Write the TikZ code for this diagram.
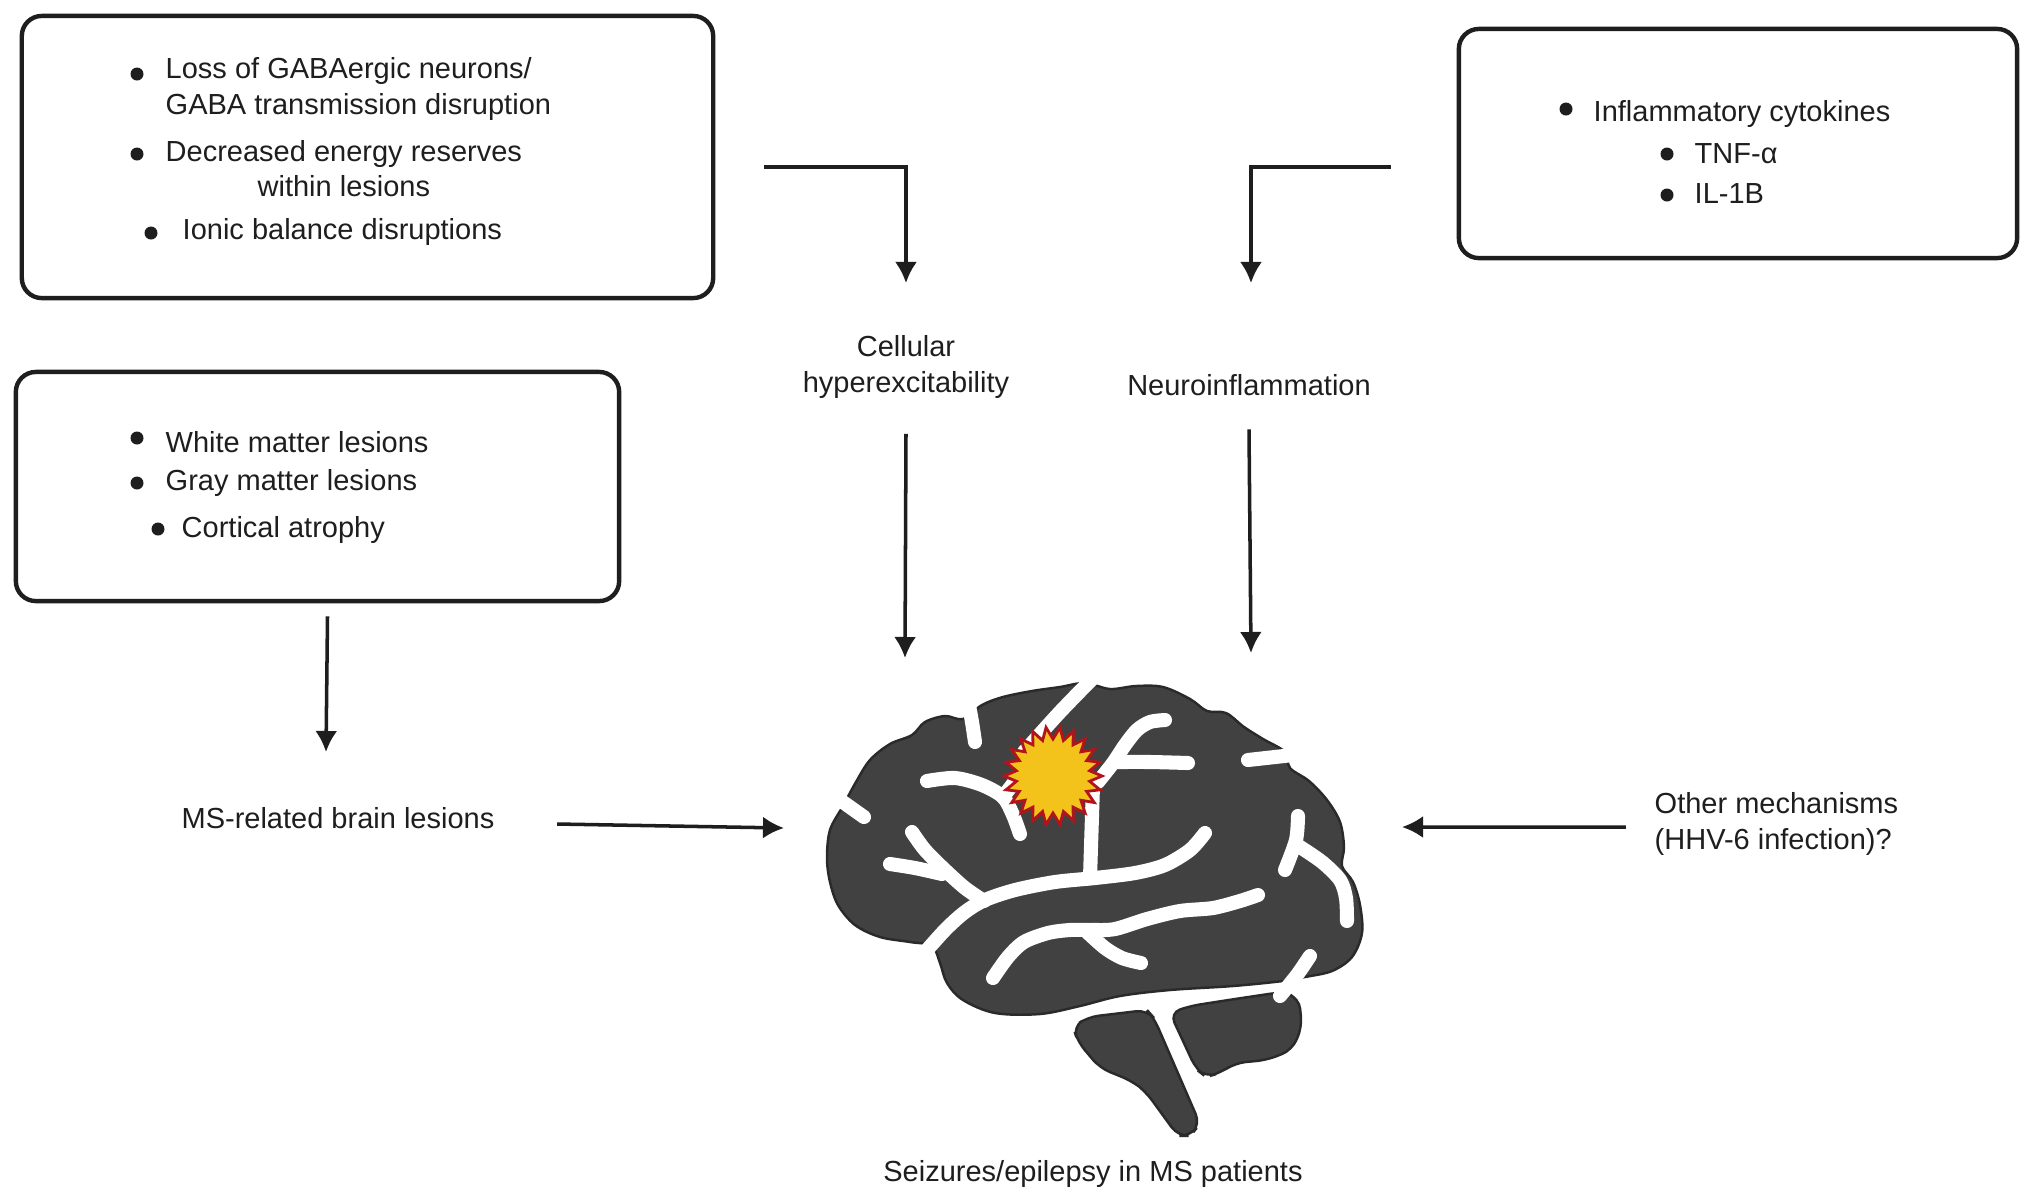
\documentclass[tikz,border=0pt]{standalone}
\usepackage{fontspec}
\setmainfont{Liberation Sans}
\usetikzlibrary{arrows.meta,positioning}
\definecolor{ink}{HTML}{1E1E1E}
\definecolor{brainfill}{HTML}{414141}
\definecolor{brainedge}{HTML}{2A2A2A}
\definecolor{flash}{HTML}{F3C21B}
\definecolor{flashedge}{HTML}{B3141C}
\tikzset{
  box/.style={draw=ink, line width=1.25pt, rounded corners=0.2cm, inner sep=0},
  txt/.style={text=ink, inner sep=0, font=\fontsize{8.25}{10}\selectfont},
  arr/.style={draw=ink, line width=1pt, -{Latex[length=0.21cm,width=0.22cm]}},
  lobe/.style={fill=brainfill, draw=brainedge, line width=0.7pt},
  sulcus/.style={draw=white, line width=4pt, line cap=round, line join=round},
}
\begin{document}
\begin{tikzpicture}[x=0.01cm,y=-0.01cm]
\useasboundingbox (0,0) rectangle (2032,1202);
\fill[white] (0,0) rectangle (2032,1202);

% boxes
\node[box, minimum width=6.91cm, minimum height=2.82cm] (lossbox) at (367.5,157) {};
\node[box, minimum width=5.58cm, minimum height=2.29cm] (cytobox) at (1738,143.5) {};
\node[box, minimum width=6.03cm, minimum height=2.29cm] (lesionbox) at (317.5,486.5) {};

% box texts
\fill[ink] (137,74) circle (6.5);
\node[txt, anchor=west, align=left] (loss) at (165,89) {Loss of GABAergic neurons/\\GABA transmission disruption};
\fill[ink] (137,154) circle (6.5);
\node[txt, anchor=west, align=center] (energy) at (165,169) {Decreased energy reserves\\within lesions};
\fill[ink] (151,233) circle (6.5);
\node[txt, anchor=west] (ionic) at (182,232) {Ionic balance disruptions};

\fill[ink] (1566,109) circle (6.5);
\node[txt, anchor=west] (cyto) at (1593,114) {Inflammatory cytokines};
\fill[ink] (1667,154) circle (6.5);
\node[txt, anchor=west] (tnf) at (1694,154) {TNF-α};
\fill[ink] (1667,195) circle (6.5);
\node[txt, anchor=west] (il) at (1694,194) {IL-1B};

\fill[ink] (137,438) circle (6.5);
\node[txt, anchor=west] (whitem) at (165,442) {White matter lesions};
\fill[ink] (137,483) circle (6.5);
\node[txt, anchor=west] (graym) at (165,483) {Gray matter lesions};
\fill[ink] (158,529) circle (6.5);
\node[txt, anchor=west] (cortical) at (181,530) {Cortical atrophy};

% labels
\node[txt, align=center] (cell) at (906,367) {Cellular\\hyperexcitability};
\node[txt] (neuro) at (1249,385) {Neuroinflammation};
\node[txt] (mslesion) at (338,818) {MS-related brain lesions};
\node[txt, anchor=west, align=left] (other) at (1654,824) {Other mechanisms\\(HHV-6 infection)?};
\node[txt] (seizure) at (1093,1174) {Seizures/epilepsy in MS patients};

% arrow ends
\coordinate (cellTop) at (906,283);
\coordinate (neuroTop) at (1251,283);
\coordinate (brainA) at (905,658);
\coordinate (brainB) at (1251,653);
\coordinate (msTop) at (326,752);
\coordinate (brainL) at (784,828);
\coordinate (brainR) at (1402,827);

\draw[arr] ([xshift=0.49cm,yshift=-0.1cm]lossbox.east) -| (cellTop);
\draw[arr] ([xshift=-0.66cm,yshift=-0.235cm]cytobox.west) -| (neuroTop);
\draw[arr] ([yshift=-0.35cm]cell.south) -- (brainA);
\draw[arr] ([yshift=-0.33cm]neuro.south) -- (brainB);
\draw[arr] ([xshift=0.1cm,yshift=-0.13cm]lesionbox.south) -- (msTop);
\draw[arr] ([xshift=0.62cm,yshift=-0.06cm]mslesion.east) -- (brainL);
\draw[arr] ([xshift=-0.28cm,yshift=-0.03cm]other.west) -- (brainR);

% brain
\draw[lobe] plot[smooth cycle, tension=0.55] coordinates {
 (827,858) (830,830) (843,806) (856,782) (870,760) (890,744) (912,735)
 (925,722) (945,716) (963,719) (982,705) (1003,697) (1032,691) (1060,687)
 (1085,683) (1110,689) (1136,686) (1163,687) (1190,699) (1207,711) (1226,713)
 (1244,727) (1263,739) (1285,752) (1290,768) (1309,781) (1327,800) (1340,822)
 (1344,847) (1342,866) (1353,882) (1360,905) (1362,933) (1352,957) (1332,971)
 (1305,977) (1283,981) (1233,986) (1170,990) (1120,996) (1080,1006) (1040,1014)
 (995,1013) (963,1000) (947,983) (940,963) (932,946) (910,942) (880,937)
 (855,925) (838,905) (830,882)};
\draw[lobe, rounded corners=3pt] (1170,1013) -- (1190,1006) -- (1235,999) -- (1282,992)
 -- (1299,998) -- (1302,1027) -- (1292,1050) -- (1267,1060) -- (1235,1063)
 -- (1220,1073) -- (1206,1077) -- (1196,1069) -- cycle;
\draw[lobe, rounded corners=3pt] (1073,1027) -- (1088,1017) -- (1147,1010) -- (1154,1018)
 -- (1200,1124) -- (1190,1136) -- (1178,1136) -- (1146,1092) -- (1132,1081)
 -- (1100,1068) -- (1078,1042) -- cycle;

% sulci
\draw[sulcus] plot[smooth] coordinates {(1097,674) (1060,712) (1024,752)};
\draw[sulcus] plot[smooth] coordinates {(927,781) (955,778) (982,785) (1003,797) (1013,815) (1020,834)};
\draw[sulcus] (1003,797) -- (1022,772);
\draw[sulcus] plot[smooth] coordinates {(968,700) (972,722) (975,742)};
\draw[sulcus] (826,790) -- (864,817);
\draw[sulcus] plot[smooth] coordinates {(912,832) (925,850) (945,870) (965,888) (984,901)};
\draw[sulcus] plot[smooth] coordinates {(890,864) (915,868) (942,874)};
\draw[sulcus] plot[smooth] coordinates {(920,958) (945,930) (965,912) (985,900) (1015,890)
 (1055,882) (1095,878) (1135,873) (1165,865) (1190,850) (1205,833)};
\draw[sulcus] (1093,785) -- (1090,878);
\draw[sulcus] plot[smooth] coordinates {(1098,782) (1113,763) (1125,745) (1137,730) (1150,722) (1165,720)};
\draw[sulcus] plot[smooth] coordinates {(1115,762) (1150,762) (1188,763)};
\draw[sulcus] (1320,752) -- (1248,760);
\draw[sulcus] plot[smooth] coordinates {(1298,816) (1296,840) (1285,870)};
\draw[sulcus] plot[smooth] coordinates {(1297,845) (1322,862) (1340,880) (1346,898) (1347,921)};
\draw[sulcus] plot[smooth] coordinates {(993,978) (1008,957) (1024,942) (1048,933) (1070,930)
 (1092,930) (1115,929) (1147,919) (1180,911) (1213,908) (1240,901) (1258,895)};
\draw[sulcus] plot[smooth] coordinates {(1087,932) (1105,948) (1122,958) (1141,963)};
\draw[sulcus] plot[smooth] coordinates {(1280,996) (1297,975) (1310,956)};

% focus
\filldraw[fill=flash, draw=flashedge, line width=0.8pt, line join=miter]
 (1053,776) ++(0:49) \foreach \k in {1,...,43}{ -- ([shift={(1053,776)}]{\k*360/44}:{49-12*mod(\k,2)}) } -- cycle;

\end{tikzpicture}
\end{document}
